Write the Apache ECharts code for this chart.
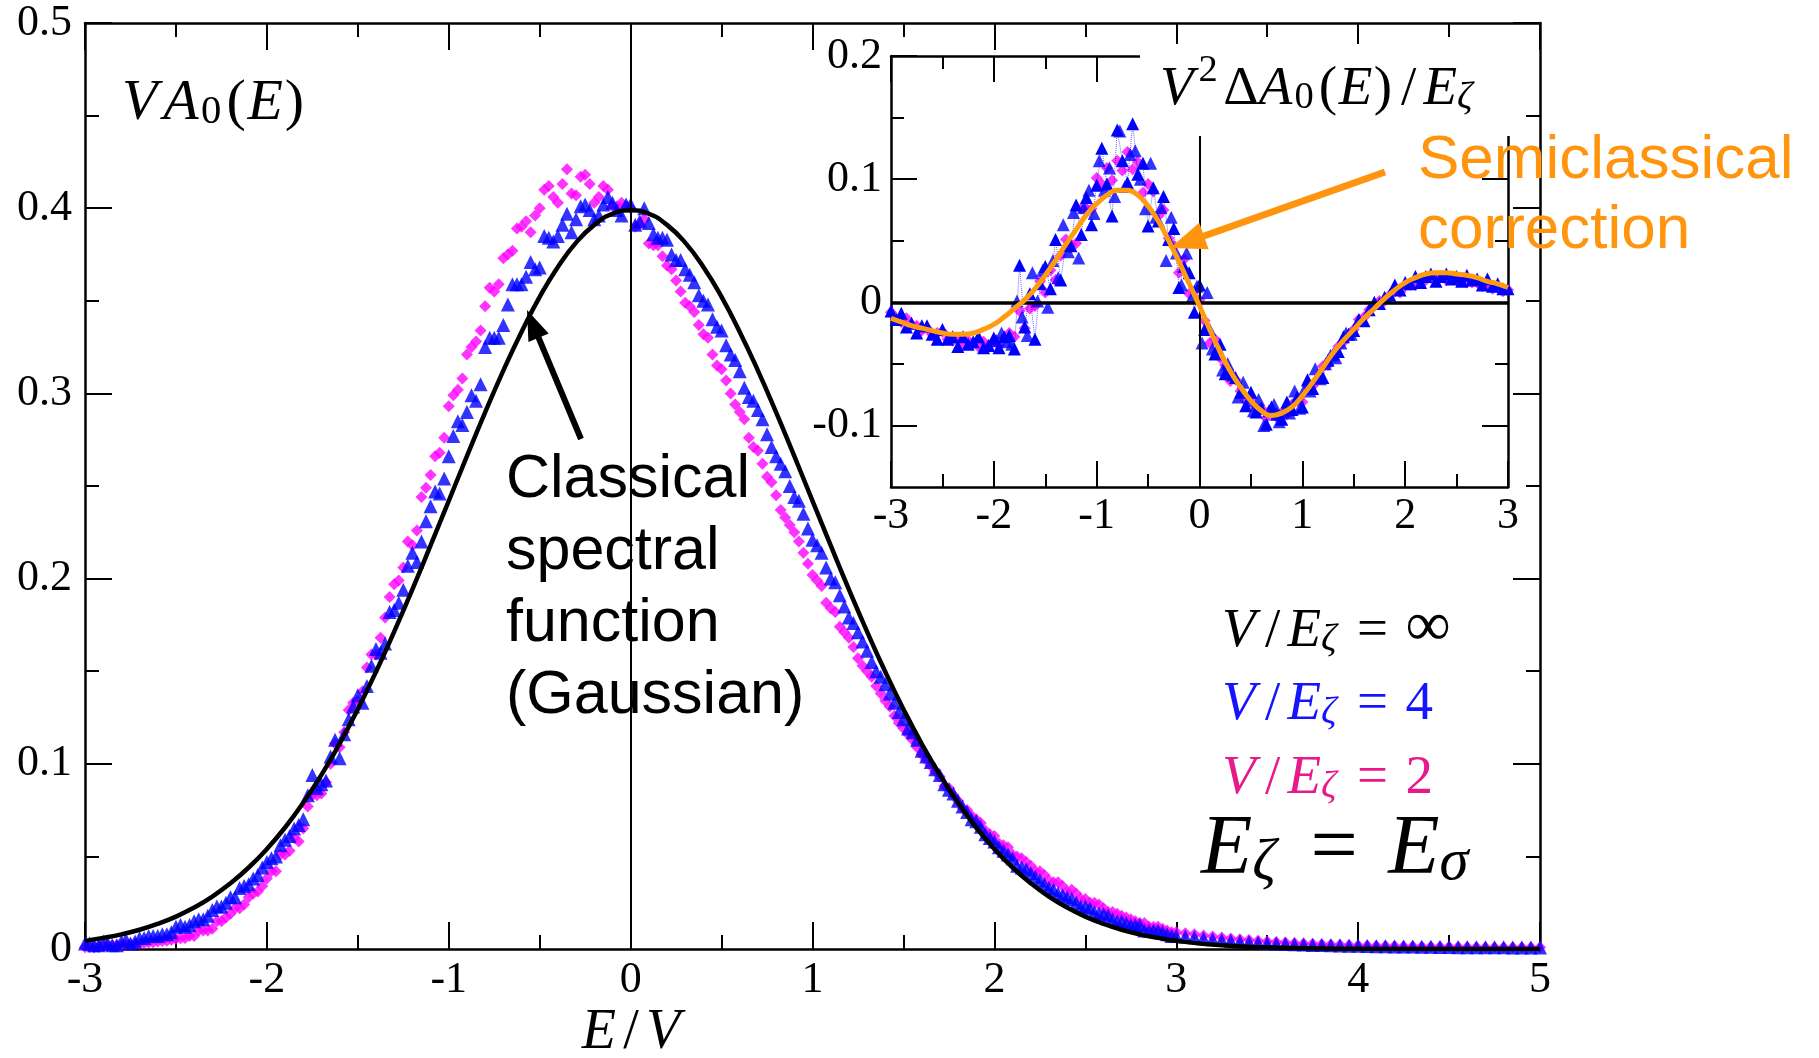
<!DOCTYPE html>
<html><head><meta charset="utf-8">
<script src="https://cdn.jsdelivr.net/npm/echarts@6/dist/echarts.min.js"></script>
<style>html,body{margin:0;padding:0;background:#fff}#chart{width:1819px;height:1058px}</style>
</head><body><div id="chart"></div>
<script>
// ---------------- DATA ----------------
const E_MAIN = [
-3.00,-2.95,-2.90,-2.85,-2.80,-2.75,-2.70,-2.65,-2.60,-2.55,
-2.50,-2.45,-2.40,-2.35,-2.30,-2.25,-2.20,-2.15,-2.10,-2.05,
-2.00,-1.95,-1.90,-1.85,-1.80,-1.75,-1.70,-1.65,-1.60,-1.55,
-1.50,-1.45,-1.40,-1.35,-1.30,-1.25,-1.20,-1.15,-1.10,-1.05,
-1.00,-0.95,-0.90,-0.85,-0.80,-0.75,-0.70,-0.65,-0.60,-0.55,
-0.50,-0.45,-0.40,-0.35,-0.30,-0.25,-0.20,-0.15,-0.10,-0.05,
0.00,0.05,0.10,0.15,0.20,0.25,0.30,0.35,0.40,0.45,
0.50,0.55,0.60,0.65,0.70,0.75,0.80,0.85,0.90,0.95,
1.00,1.05,1.10,1.15,1.20,1.25,1.30,1.35,1.40,1.45,
1.50,1.55,1.60,1.65,1.70,1.75,1.80,1.85,1.90,1.95,
2.00,2.05,2.10,2.15,2.20,2.25,2.30,2.35,2.40,2.45,
2.50,2.55,2.60,2.65,2.70,2.75,2.80,2.85,2.90,2.95,
3.00,
3.05,3.10,3.15,3.20,3.25,3.30,3.35,3.40,3.45,3.50,
3.55,3.60,3.65,3.70,3.75,3.80,3.85,3.90,3.95,4.00,
4.05,4.10,4.15,4.20,4.25,4.30,4.35,4.40,4.45,4.50,
4.55,4.60,4.65,4.70,4.75,4.80,4.85,4.90,4.95,5.00];

// V/E_zeta = 4 (blue triangles), main panel
const BLUE_MAIN = [
0.003,0.002,0.004,0.002,0.004,0.003,0.006,0.007,0.007,0.008,
0.012,0.012,0.015,0.016,0.021,0.023,0.028,0.033,0.035,0.040,
0.047,0.050,0.059,0.065,0.070,0.094,0.089,0.104,0.103,0.124,
0.137,0.142,0.162,0.165,0.183,0.194,0.214,0.220,0.239,0.246,
0.266,0.285,0.290,0.296,0.325,0.330,0.337,0.359,0.359,0.371,
0.368,0.384,0.385,0.397,0.394,0.402,0.394,0.402,0.403,0.396,
0.402,0.393,0.392,0.384,0.383,0.372,0.367,0.360,0.350,0.340,
0.334,0.321,0.312,0.298,0.291,0.278,0.266,0.258,0.244,0.235,
0.221,0.214,0.200,0.191,0.179,0.171,0.161,0.150,0.143,0.133,
0.124,0.117,0.107,0.101,0.094,0.086,0.080,0.074,0.069,0.062,
0.058,0.053,0.049,0.044,0.041,0.037,0.033,0.030,0.028,0.025,
0.023,0.020,0.019,0.016,0.015,0.013,0.013,0.010,0.010,0.008,
0.007,
0.0068,0.0063,0.0058,0.0053,0.0049,0.0045,0.0041,0.0038,0.0035,0.0032,
0.0030,0.0028,0.0026,0.0024,0.0022,0.0021,0.0020,0.0019,0.0018,0.0017,
0.0016,0.0015,0.0015,0.0014,0.0013,0.0013,0.0012,0.0012,0.0011,0.0011,
0.0010,0.0010,0.0010,0.0009,0.0009,0.0009,0.0008,0.0008,0.0008,0.0008];

// V/E_zeta = 2 (magenta diamonds), main panel
const PINK_MAIN = [
0.001,0.001,0.0015,0.002,0.002,0.0025,0.003,0.0035,0.004,0.0045,
0.0055,0.006,0.007,0.010,0.011,0.015,0.019,0.022,0.028,0.031,
0.038,0.042,0.051,0.060,0.065,0.083,0.084,0.100,0.109,0.129,
0.134,0.152,0.159,0.179,0.197,0.206,0.218,0.244,0.256,0.268,
0.293,0.302,0.321,0.328,0.347,0.355,0.373,0.377,0.390,0.387,
0.400,0.412,0.403,0.421,0.407,0.418,0.403,0.412,0.401,0.403,
0.400,0.391,0.381,0.380,0.369,0.361,0.349,0.344,0.332,0.321,
0.313,0.300,0.290,0.276,0.269,0.255,0.245,0.233,0.225,0.214,
0.202,0.196,0.184,0.174,0.168,0.157,0.150,0.142,0.134,0.126,
0.119,0.113,0.105,0.099,0.093,0.087,0.080,0.075,0.070,0.064,
0.061,0.056,0.051,0.049,0.045,0.042,0.037,0.036,0.031,0.030,
0.027,0.025,0.022,0.020,0.018,0.016,0.014,0.012,0.012,0.010,
0.009,
0.0085,0.0079,0.0073,0.0067,0.0062,0.0057,0.0052,0.0048,0.0044,0.0041,
0.0038,0.0035,0.0032,0.0030,0.0028,0.0026,0.0024,0.0023,0.0021,0.0020,
0.0019,0.0018,0.0017,0.0016,0.0015,0.0015,0.0014,0.0013,0.0013,0.0012,
0.0012,0.0011,0.0011,0.0010,0.0010,0.0010,0.0009,0.0009,0.0009,0.0009];

// further samples of the same two data sets, between the points above
const E_MID = [
-2.975,-2.925,-2.875,-2.825,-2.775,-2.725,-2.675,-2.625,-2.575,-2.525,
-2.475,-2.425,-2.375,-2.325,-2.275,-2.225,-2.175,-2.125,-2.075,-2.025,
-1.975,-1.925,-1.875,-1.825,-1.775,-1.725,-1.675,-1.625,-1.575,-1.525,
-1.475,-1.425,-1.375,-1.325,-1.275,-1.225,-1.175,-1.125,-1.075,-1.025,
-0.975,-0.925,-0.875,-0.825,-0.775,-0.725,-0.675,-0.625,-0.575,-0.525,
-0.475,-0.425,-0.375,-0.325,-0.275,-0.225,-0.175,-0.125,-0.075,-0.025,
0.025,0.075,0.125,0.175,0.225,0.275,0.325,0.375,0.425,0.475,
0.525,0.575,0.625,0.675,0.725,0.775,0.825,0.875,0.925,0.975,
1.025,1.075,1.125,1.175,1.225,1.275,1.325,1.375,1.425,1.475,
1.525,1.575,1.625,1.675,1.725,1.775,1.825,1.875,1.925,1.975,
2.025,2.075,2.125,2.175,2.225,2.275,2.325,2.375,2.425,2.475,
2.525,2.575,2.625,2.675,2.725,2.775,2.825,2.875,2.925,2.975];
const BLUE_MID = [
0.003,0.002,0.003,0.002,0.005,0.004,0.006,0.007,0.008,0.009,
0.013,0.013,0.016,0.018,0.023,0.025,0.028,0.034,0.038,0.044,
0.049,0.056,0.061,0.067,0.083,0.087,0.091,0.113,0.116,0.131,
0.133,0.153,0.160,0.182,0.187,0.207,0.209,0.231,0.247,0.254,
0.277,0.283,0.299,0.305,0.330,0.330,0.348,0.359,0.363,0.367,
0.385,0.382,0.391,0.387,0.401,0.399,0.396,0.406,0.399,0.402,
0.391,0.400,0.386,0.384,0.375,0.372,0.364,0.353,0.348,0.336,
0.326,0.318,0.303,0.296,0.286,0.271,0.262,0.250,0.242,0.227,
0.218,0.206,0.198,0.185,0.176,0.166,0.155,0.147,0.138,0.128,
0.119,0.113,0.104,0.097,0.089,0.084,0.077,0.070,0.066,0.060,
0.055,0.051,0.045,0.043,0.039,0.035,0.032,0.029,0.027,0.023,
0.022,0.019,0.018,0.015,0.014,0.013,0.010,0.010,0.009,0.007];
const PINK_MID = [
0.001,0.0012,0.0018,0.002,0.0022,0.0028,0.0033,0.0037,0.0043,0.005,
0.0058,0.007,0.010,0.010,0.015,0.017,0.022,0.024,0.030,0.034,
0.042,0.051,0.053,0.058,0.077,0.083,0.090,0.111,0.117,0.133,
0.139,0.159,0.168,0.190,0.199,0.220,0.226,0.249,0.266,0.276,
0.299,0.308,0.325,0.334,0.357,0.359,0.375,0.389,0.393,0.396,
0.410,0.406,0.413,0.408,0.417,0.413,0.406,0.410,0.401,0.401,
0.390,0.394,0.380,0.374,0.367,0.355,0.347,0.337,0.330,0.315,
0.307,0.294,0.286,0.271,0.262,0.252,0.237,0.229,0.220,0.208,
0.199,0.187,0.182,0.171,0.163,0.153,0.147,0.138,0.131,0.122,
0.116,0.109,0.102,0.096,0.088,0.083,0.076,0.072,0.068,0.062,
0.057,0.055,0.050,0.047,0.042,0.040,0.036,0.034,0.032,0.027,
0.025,0.024,0.020,0.019,0.017,0.015,0.014,0.012,0.011,0.009];

// classical spectral function (Gaussian), V/E_zeta = infinity
const E_GAUSS = [
-3.0,-2.9,-2.8,-2.7,-2.6,-2.5,-2.4,-2.3,-2.2,-2.1,
-2.0,-1.9,-1.8,-1.7,-1.6,-1.5,-1.4,-1.3,-1.2,-1.1,
-1.0,-0.9,-0.8,-0.7,-0.6,-0.5,-0.4,-0.3,-0.2,-0.1,
0.0,0.1,0.2,0.3,0.4,0.5,0.6,0.7,0.8,0.9,
1.0,1.1,1.2,1.3,1.4,1.5,1.6,1.7,1.8,1.9,
2.0,2.1,2.2,2.3,2.4,2.5,2.6,2.7,2.8,2.9,
3.0,3.25,3.5,3.75,4.0,4.5,5.0];
const GAUSS = [
0.0044,0.0060,0.0079,0.0104,0.0136,0.0175,0.0224,0.0283,0.0355,0.0440,
0.0540,0.0656,0.0790,0.0940,0.1109,0.1295,0.1497,0.1714,0.1942,0.2179,
0.2420,0.2661,0.2897,0.3123,0.3332,0.3521,0.3683,0.3814,0.3910,0.3970,
0.3989,0.3970,0.3910,0.3814,0.3683,0.3521,0.3332,0.3123,0.2897,0.2661,
0.2420,0.2179,0.1942,0.1714,0.1497,0.1295,0.1109,0.0940,0.0790,0.0656,
0.0540,0.0440,0.0355,0.0283,0.0224,0.0175,0.0136,0.0104,0.0079,0.0060,
0.0044,0.0020,0.0009,0.0004,0.0001,0.0000,0.0000];

// inset: V^2 dA0(E)/E_zeta
const E_INSET = E_MAIN.slice(0, 121);
const BLUE_INSET = [
-0.007,-0.014,-0.009,-0.020,-0.017,-0.025,-0.019,-0.019,-0.026,-0.030,
-0.022,-0.030,-0.028,-0.036,-0.028,-0.034,-0.032,-0.028,-0.037,-0.035,
-0.029,-0.037,-0.028,-0.027,-0.038,0.030,-0.020,0.007,-0.030,0.015,
0.029,0.011,0.051,0.018,0.046,0.046,0.079,0.055,0.085,0.063,
0.095,0.125,0.096,0.070,0.140,0.115,0.097,0.145,0.104,0.113,
0.062,0.093,0.066,0.086,0.051,0.060,0.012,0.029,0.024,-0.008,
0.014,-0.022,-0.022,-0.042,-0.034,-0.058,-0.056,-0.061,-0.073,-0.084,
-0.073,-0.089,-0.086,-0.099,-0.085,-0.091,-0.095,-0.081,-0.087,-0.077,
-0.085,-0.063,-0.070,-0.060,-0.061,-0.047,-0.042,-0.040,-0.028,-0.026,
-0.023,-0.014,-0.015,-0.006,0.000,-0.001,0.004,0.006,0.014,0.010,
0.016,0.015,0.021,0.016,0.021,0.023,0.017,0.021,0.023,0.019,
0.021,0.017,0.022,0.018,0.019,0.014,0.019,0.013,0.015,0.011,
0.011];
const E_INSET_B = E_MID.slice(20, 90);
const BLUE_INSET_B = [
-0.031,-0.025,-0.032,-0.034,0.001,-0.012,-0.027,0.024,0.001,0.026,
-0.004,0.034,0.020,0.063,0.041,0.073,0.036,0.077,0.091,0.072,
0.115,0.091,0.109,0.086,0.139,0.094,0.120,0.123,0.100,0.076,
0.113,0.069,0.077,0.034,0.069,0.040,0.014,0.040,0.004,0.013,
-0.033,0.008,-0.038,-0.037,-0.055,-0.050,-0.059,-0.077,-0.065,-0.080,
-0.088,-0.079,-0.100,-0.088,-0.083,-0.097,-0.088,-0.090,-0.072,-0.086,
-0.070,-0.072,-0.054,-0.062,-0.050,-0.043,-0.045,-0.033,-0.025,-0.026];
const PINK_INSET = [
-0.008,-0.013,-0.016,-0.013,-0.018,-0.019,-0.023,-0.021,-0.026,-0.025,
-0.024,-0.030,-0.031,-0.029,-0.035,-0.031,-0.033,-0.036,-0.032,-0.035,
-0.032,-0.035,-0.029,-0.025,-0.028,-0.007,-0.021,-0.005,-0.003,0.017,
0.008,0.026,0.018,0.038,0.051,0.047,0.048,0.076,0.076,0.076,
0.101,0.096,0.109,0.099,0.115,0.107,0.122,0.108,0.114,0.089,
0.096,0.090,0.070,0.075,0.052,0.046,0.024,0.035,0.007,0.009,
0.002,-0.015,-0.033,-0.030,-0.045,-0.051,-0.064,-0.063,-0.072,-0.080,
-0.078,-0.086,-0.086,-0.094,-0.087,-0.093,-0.090,-0.091,-0.083,-0.080,
-0.081,-0.068,-0.068,-0.063,-0.052,-0.051,-0.043,-0.036,-0.032,-0.026,
-0.022,-0.014,-0.012,-0.006,-0.003,0.001,0.001,0.006,0.009,0.008,
0.013,0.014,0.014,0.018,0.018,0.020,0.018,0.021,0.018,0.020,
0.018,0.018,0.016,0.016,0.016,0.013,0.013,0.011,0.012,0.009,
0.010];
// semiclassical correction (orange curve)
const E_CORR = E_GAUSS.slice(0, 61);
const CORR = [
-0.013,-0.016,-0.019,-0.021,-0.023,-0.025,-0.026,-0.026,-0.025,-0.022,
-0.018,-0.012,-0.005,0.002,0.011,0.022,0.034,0.047,0.059,0.071,
0.080,0.087,0.091,0.091,0.087,0.078,0.066,0.050,0.033,0.015,
-0.003,-0.022,-0.040,-0.056,-0.069,-0.080,-0.088,-0.092,-0.090,-0.085,
-0.076,-0.065,-0.053,-0.041,-0.031,-0.022,-0.013,-0.005,0.003,0.010,
0.016,0.020,0.023,0.024,0.024,0.023,0.022,0.020,0.017,0.015,
0.012];

const MAIN_Y_TICKS = [0, 0.1, 0.2, 0.3, 0.4, 0.5];
const INSET_Y_MAJOR = [-0.1, 0, 0.1, 0.2];
const INSET_Y_MINOR = [-0.05, 0.05, 0.15];

// ---------------- CHART ----------------
const chart = echarts.init(document.getElementById('chart'), null, {renderer: 'canvas'});
const pairs = (xs, ys) => xs.map((x, i) => [x, ys[i]]);

const BLACK = '#000';
const BLUE = '#0000ff';
const MAGENTA = '#ff00ff';
const tickLS = {color: BLACK, width: 2};
const labelFont = {color: BLACK, fontFamily: 'Liberation Serif', fontSize: 44};

function xAx(grid, min, max, pos, showLabel, majLen, minLen, margin) {
  return {
    type: 'value', gridIndex: grid, min, max, interval: 1, position: pos,
    axisLine: {show: true, onZero: false, lineStyle: {color: BLACK, width: 2.5}},
    axisTick: {show: true, inside: true, length: majLen, lineStyle: tickLS},
    minorTick: {show: true, splitNumber: 2, length: minLen, lineStyle: tickLS},
    axisLabel: Object.assign({show: showLabel, margin}, labelFont),
    splitLine: {show: false}, minorSplitLine: {show: false}
  };
}
function insetY(pos, showLine, ticks, len, showLabel) {
  return {type: 'value', gridIndex: 1, min: -0.15, max: 0.2, interval: 0.05, position: pos,
    axisLine: {show: showLine, onZero: false, lineStyle: {color: BLACK, width: 2.5}},
    axisTick: {show: true, inside: true, length: len, lineStyle: tickLS, customValues: ticks},
    axisLabel: showLabel ? Object.assign({margin: 9, customValues: INSET_Y_MAJOR}, labelFont) : {show: false},
    splitLine: {show: false}};
}
function scat(name, xi, yi, xs, ys, symbol, size, color, z) {
  return {type: 'scatter', name, xAxisIndex: xi, yAxisIndex: yi, data: pairs(xs, ys),
    symbol, symbolSize: size, itemStyle: {color}, silent: true, z};
}

const option = {
  animation: false,
  backgroundColor: '#fff',
  grid: [
    {left: 85, top: 23, width: 1455, height: 926},
    {left: 891, top: 56, width: 617, height: 431}
  ],
  xAxis: [
    xAx(0, -3, 5, 'bottom', true, 27, 14, 9),
    xAx(0, -3, 5, 'top', false, 27, 14, 9),
    xAx(1, -3, 3, 'bottom', true, 26, 13, 7),
    xAx(1, -3, 3, 'top', false, 26, 13, 7)
  ],
  yAxis: [
    {type: 'value', gridIndex: 0, min: 0, max: 0.5, interval: 0.1, position: 'left',
     axisLine: {show: true, onZero: false, lineStyle: {color: BLACK, width: 2.5}},
     axisTick: {show: true, inside: true, length: 27, lineStyle: tickLS},
     minorTick: {show: true, splitNumber: 2, length: 14, lineStyle: tickLS},
     axisLabel: Object.assign({margin: 13, customValues: MAIN_Y_TICKS}, labelFont),
     splitLine: {show: false}},
    {type: 'value', gridIndex: 0, min: 0, max: 0.5, interval: 0.1, position: 'right',
     axisLine: {show: true, onZero: false, lineStyle: {color: BLACK, width: 2.5}},
     axisTick: {show: true, inside: true, length: 27, lineStyle: tickLS},
     minorTick: {show: true, splitNumber: 2, length: 14, lineStyle: tickLS},
     axisLabel: {show: false}, splitLine: {show: false}},
    insetY('left', true, INSET_Y_MAJOR, 26, true),
    insetY('left', false, INSET_Y_MINOR, 13, false),
    insetY('right', true, INSET_Y_MAJOR, 26, false),
    insetY('right', false, INSET_Y_MINOR, 13, false)
  ],
  series: [
    scat('V/Ez=2', 0, 0, E_MAIN, PINK_MAIN, 'diamond', 12, MAGENTA, 2),
    scat('V/Ez=2 b', 0, 0, E_MID, PINK_MID, 'diamond', 12, MAGENTA, 2),
    scat('V/Ez=4', 0, 0, E_MAIN, BLUE_MAIN, 'triangle', 14, BLUE, 3),
    scat('V/Ez=4 b', 0, 0, E_MID, BLUE_MID, 'triangle', 14, BLUE, 3),
    {type: 'line', name: 'Gaussian', xAxisIndex: 0, yAxisIndex: 0, data: pairs(E_GAUSS, GAUSS),
     smooth: true, showSymbol: false, lineStyle: {color: BLACK, width: 4.5}, silent: true, z: 4,
     markLine: {silent: true, symbol: ['none', 'none'], label: {show: false},
       lineStyle: {color: BLACK, width: 2, type: 'solid'}, data: [{xAxis: 0}]}},
    scat('inset V/Ez=2', 2, 2, E_INSET, PINK_INSET, 'diamond', 12, MAGENTA, 2),
    {type: 'line', name: 'inset V/Ez=4', xAxisIndex: 2, yAxisIndex: 2, data: pairs(E_INSET, BLUE_INSET),
     symbol: 'triangle', symbolSize: 13, showSymbol: true, showAllSymbol: true,
     itemStyle: {color: BLUE}, lineStyle: {color: BLUE, width: 1, type: 'dotted', opacity: 0.6},
     silent: true, z: 3},
    scat('inset V/Ez=4 b', 2, 2, E_INSET_B, BLUE_INSET_B, 'triangle', 13, BLUE, 3),
    {type: 'line', name: 'Semiclassical', xAxisIndex: 2, yAxisIndex: 2, data: pairs(E_CORR, CORR),
     smooth: true, showSymbol: false, lineStyle: {color: '#ff9b0f', width: 5}, silent: true, z: 6,
     markLine: {silent: true, symbol: ['none', 'none'], label: {show: false},
       data: [{xAxis: 0, lineStyle: {color: BLACK, width: 2, type: 'solid'}},
              {yAxis: 0, lineStyle: {color: BLACK, width: 3.5, type: 'solid'}}]}}
  ]
};

// ---------- annotations ----------
function mathText(x, baseline, S, color, str, align, eqPad) {
  const LH = 1.2 * S, ff = 'Liberation Serif';
  const ep = eqPad || 0.32;
  const base = {fontFamily: ff, fontSize: S, lineHeight: LH, verticalAlign: 'bottom', fill: color};
  const rich = {
    i: Object.assign({}, base, {fontStyle: 'italic'}),
    ip: Object.assign({}, base, {fontStyle: 'italic', padding: [0, 0.1 * S, 0, 0]}),
    ia: Object.assign({}, base, {fontStyle: 'italic', padding: [0, 0.04 * S, 0, 0]}),
    r: Object.assign({}, base),
    rp: Object.assign({}, base, {padding: [0, 0.03 * S, 0, 0.03 * S]}),
    sl: Object.assign({}, base, {padding: [0, 0.13 * S, 0, 0.13 * S]}),
    eq: Object.assign({}, base, {padding: [0, ep * S, 0, ep * S]}),
    inf: Object.assign({}, base, {fontSize: 1.15 * S}),
    sbi: {fontFamily: ff, fontStyle: 'italic', fontSize: 0.7 * S, lineHeight: 0.7 * S, verticalAlign: 'bottom', fill: color, padding: [0, 0.05 * S, 0, 0]},
    sbr: {fontFamily: ff, fontSize: 0.7 * S, lineHeight: 0.7 * S, verticalAlign: 'bottom', fill: color, padding: [0, 0.06 * S, 0, 0]},
    sp: {fontFamily: ff, fontSize: 0.7 * S, lineHeight: 0.643 * S, verticalAlign: 'top', fill: color, padding: [0, 0.1 * S, 0, 0.05 * S]}
  };
  return {type: 'text', z: 60, silent: true,
    style: {text: str, rich, x, y: baseline + 0.2625 * S, fill: color,
      align: align, textAlign: align, verticalAlign: 'bottom', textVerticalAlign: 'bottom'}};
}

function arrow(x1, y1, x2, y2, color, lw, hl, hw) {
  const dx = x2 - x1, dy = y2 - y1, L = Math.hypot(dx, dy);
  const ux = dx / L, uy = dy / L, nx = -uy, ny = ux;
  const bx = x2 - ux * hl, by = y2 - uy * hl;
  return [
    {type: 'line', z: 61, silent: true, shape: {x1, y1, x2: bx + ux * 3, y2: by + uy * 3},
     style: {stroke: color, lineWidth: lw}},
    {type: 'polygon', z: 61, silent: true,
     shape: {points: [[x2, y2], [bx + nx * hw, by + ny * hw], [bx - nx * hw, by - ny * hw]]},
     style: {fill: color}}
  ];
}

const ORANGE = '#ff950e';
option.graphic = {elements: [
  // white patch behind the inset title
  {type: 'rect', z: 50, silent: true, shape: {x: 1140, y: 44, width: 375, height: 92}, style: {fill: '#fff'}},
  mathText(122, 118, 58, BLACK, '{ip|V}{ia|A}{sbr|0}{rp|(}{i|E}{rp|)}', 'left'),
  mathText(631, 1047, 56, BLACK, '{i|E}{sl|/}{i|V}', 'center'),
  mathText(1160, 103, 55, BLACK, '{ia|V}{sp|2}{r|Δ}{ia|A}{sbr|0}{rp|(}{i|E}{rp|)}{sl|/}{i|E}{sbi|ζ}', 'left'),
  mathText(1222, 645, 55, BLACK, '{ia|V}{sl|/}{i|E}{sbi|ζ}{eq|=}{inf|∞}', 'left'),
  mathText(1222, 718, 55, '#1414ff', '{ia|V}{sl|/}{i|E}{sbi|ζ}{eq|=}{r|4}', 'left'),
  mathText(1222, 792, 55, '#e8198b', '{ia|V}{sl|/}{i|E}{sbi|ζ}{eq|=}{r|2}', 'left'),
  mathText(1201, 871, 84, BLACK, '{i|E}{sbi|ζ}{eq|=}{i|E}{sbi|σ}', 'left', 0.36),
  {type: 'text', z: 60, silent: true,
   style: {text: 'Classical\nspectral\nfunction\n(Gaussian)', x: 506, y: 444,
     fontFamily: 'Liberation Sans', fontSize: 61, lineHeight: 72, fill: BLACK,
     align: 'left', verticalAlign: 'top', textAlign: 'left', textVerticalAlign: 'top'}},
  {type: 'text', z: 60, silent: true,
   style: {text: 'Semiclassical\ncorrection', x: 1418, y: 126,
     fontFamily: 'Liberation Sans', fontSize: 62, lineHeight: 70, fill: ORANGE,
     align: 'left', verticalAlign: 'top', textAlign: 'left', textVerticalAlign: 'top'}}
].concat(arrow(581, 439, 527, 310, BLACK, 6, 30, 11))
 .concat(arrow(1385, 172, 1170, 248, ORANGE, 7, 36, 14))};

chart.setOption(option);
</script></body></html>
